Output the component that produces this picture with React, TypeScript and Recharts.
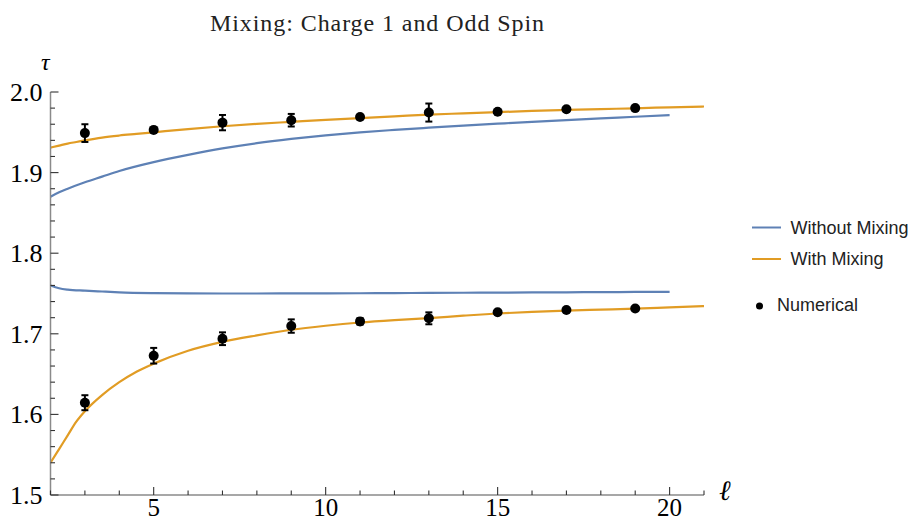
import { ComposedChart, Line, Scatter, ErrorBar, XAxis, YAxis } from "recharts"

// curves: spin ℓ on x, twist τ on y
const WITHOUT_ELL = [2, 2.25, 2.5, 3, 3.5, 4, 5, 6, 7, 8, 9, 10, 11, 12, 13, 14, 15, 16, 17, 18, 19, 20]
const WITHOUT_UPPER = [1.870, 1.8755, 1.880, 1.888, 1.895, 1.902, 1.913, 1.922, 1.930, 1.9365, 1.9418, 1.9463, 1.950, 1.953, 1.9557, 1.9583, 1.9607, 1.963, 1.9652, 1.9673, 1.9693, 1.9714]
const WITHOUT_LOWER = [1.760, 1.7565, 1.7548, 1.7535, 1.7525, 1.7515, 1.7505, 1.7501, 1.7500, 1.7500, 1.7501, 1.7502, 1.7503, 1.7505, 1.7507, 1.7509, 1.7511, 1.7513, 1.7515, 1.7517, 1.7519, 1.7521]

const WITH_ELL = [2, 2.25, 2.5, 2.75, 3, 3.5, 4, 4.5, 5, 6, 7, 8, 9, 10, 11, 12, 13, 14, 15, 16, 17, 18, 19, 20, 21]
const WITH_UPPER = [1.931, 1.9335, 1.936, 1.938, 1.940, 1.9435, 1.946, 1.948, 1.950, 1.954, 1.9575, 1.9605, 1.963, 1.9655, 1.9675, 1.9697, 1.972, 1.9735, 1.975, 1.9765, 1.9777, 1.9788, 1.9798, 1.981, 1.982]
const WITH_LOWER = [1.540, 1.557, 1.574, 1.591, 1.604, 1.624, 1.640, 1.653, 1.663, 1.679, 1.690, 1.698, 1.705, 1.710, 1.714, 1.717, 1.7195, 1.7225, 1.7252, 1.7272, 1.7288, 1.730, 1.7312, 1.7328, 1.7343]

// numerical points with error bars
const NUM_ELL = [3, 5, 7, 9, 11, 13, 15, 17, 19]
const NUM_UPPER = [1.949, 1.953, 1.962, 1.965, 1.969, 1.9745, 1.9755, 1.9785, 1.980]
const NUM_UPPER_ERR = [0.011, 0.002, 0.0095, 0.0078, 0.002, 0.0112, 0.001, 0.001, 0.001]
const NUM_LOWER = [1.6145, 1.6728, 1.6939, 1.7096, 1.7154, 1.7192, 1.7267, 1.7295, 1.7315]
const NUM_LOWER_ERR = [0.0093, 0.0097, 0.0079, 0.0083, 0.004, 0.0074, 0.001, 0.001, 0.001]

const X_MAJOR = [5, 10, 15, 20]
const Y_MAJOR = [1.5, 1.6, 1.7, 1.8, 1.9, 2.0]

const BLUE = "#5E81B5"
const ORANGE = "#E19C24"
const AXIS = "#8a8a8a"
const TICK = "#333"
const SERIF = "'Liberation Serif', 'Times New Roman', serif"
const SANS = "'Liberation Sans', Arial, sans-serif"

const zip = (xs: number[], ys: number[]) => xs.map((x, i) => ({ x, y: ys[i] }))

const withoutUpper = zip(WITHOUT_ELL, WITHOUT_UPPER)
const withoutLower = zip(WITHOUT_ELL, WITHOUT_LOWER)
const withUpper = zip(WITH_ELL, WITH_UPPER)
const withLower = zip(WITH_ELL, WITH_LOWER)
const numerical = [
  ...NUM_ELL.map((x, i) => ({ x, y: NUM_UPPER[i], err: NUM_UPPER_ERR[i] })),
  ...NUM_ELL.map((x, i) => ({ x, y: NUM_LOWER[i], err: NUM_LOWER_ERR[i] })),
]

// minor ticks every 1 on x, every 0.02 on y
const xTicks = Array.from({ length: 20 }, (_, i) => i + 2)
const yTicks = Array.from({ length: 26 }, (_, i) => Math.round((1.5 + i * 0.02) * 100) / 100)

const XTick = (props: any) => {
  const { x, y, payload } = props
  const v = payload.value
  const major = X_MAJOR.includes(v)
  const len = major ? 8 : 4.5
  return (
    <g>
      <path d={`M${x},${y}L${x},${y - len}`} stroke={TICK} strokeWidth={1.1} fill="none" />
      {major && (
        <text x={x} y={y + 21} textAnchor="middle" fontFamily={SERIF} fontSize={25} fill="#000">
          {v}
        </text>
      )}
    </g>
  )
}

const YTick = (props: any) => {
  const { x, y, payload } = props
  const v = payload.value
  const major = Y_MAJOR.some(m => Math.abs(m - v) < 1e-6)
  const len = major ? 8 : 4.5
  return (
    <g>
      <path d={`M${x},${y}L${x + len},${y}`} stroke={TICK} strokeWidth={1.1} fill="none" />
      {major && (
        <text x={x - 8} y={y + 9} textAnchor="end" fontFamily={SERIF} fontSize={26} fill="#000">
          {v.toFixed(1)}
        </text>
      )}
    </g>
  )
}

const Dot = ({ cx, cy }: any) => <circle cx={cx} cy={cy} r={5} fill="#000" />

export default function App() {
  return (
    <div style={{ position: "absolute", left: 0, top: 0, width: 914, height: 522, background: "#fff" }}>
      <ComposedChart width={914} height={522} margin={{ top: 92, right: 210, bottom: 0, left: 0 }}>
        <XAxis
          type="number"
          dataKey="x"
          domain={[2, 21]}
          ticks={xTicks}
          interval={0}
          tickSize={0}
          tickMargin={0}
          tickLine={false}
          height={27}
          axisLine={{ stroke: AXIS, strokeWidth: 1.5 }}
          tick={XTick}
          allowDataOverflow
        />
        <YAxis
          type="number"
          domain={[1.5, 2.0]}
          ticks={yTicks}
          interval={0}
          tickSize={0}
          tickMargin={0}
          tickLine={false}
          width={50.5}
          axisLine={{ stroke: AXIS, strokeWidth: 1.5 }}
          tick={YTick}
          allowDataOverflow
        />
        <Line data={withoutUpper} dataKey="y" type="monotone" stroke={BLUE} strokeWidth={2.2} dot={false} activeDot={false} isAnimationActive={false} />
        <Line data={withoutLower} dataKey="y" type="monotone" stroke={BLUE} strokeWidth={2.2} dot={false} activeDot={false} isAnimationActive={false} />
        <Line data={withUpper} dataKey="y" type="monotone" stroke={ORANGE} strokeWidth={2.2} dot={false} activeDot={false} isAnimationActive={false} />
        <Line data={withLower} dataKey="y" type="monotone" stroke={ORANGE} strokeWidth={2.2} dot={false} activeDot={false} isAnimationActive={false} />
        <Scatter data={numerical} dataKey="y" fill="#000" shape={<Dot />} isAnimationActive={false}>
          <ErrorBar dataKey="err" direction="y" width={3.5} strokeWidth={2} stroke="#000" />
        </Scatter>
      </ComposedChart>
      <svg width={914} height={522} style={{ position: "absolute", left: 0, top: 0, pointerEvents: "none" }}>
        <text x={377} y={31} textAnchor="middle" fontFamily={SERIF} fontSize={24} textLength={334} lengthAdjust="spacing" fill="#222">
          Mixing: Charge 1 and Odd Spin
        </text>
        <text x={41} y={70} fontFamily={SERIF} fontStyle="italic" fontSize={24} fill="#000">τ</text>
        <text x={719} y={500} fontFamily={SERIF} fontStyle="italic" fontSize={28} fill="#000">ℓ</text>
        <line x1={752} x2={781} y1={227.5} y2={227.5} stroke={BLUE} strokeWidth={2} />
        <text x={790.5} y={233.5} fontFamily={SANS} fontSize={18} fill="#222">Without Mixing</text>
        <line x1={752} x2={781} y1={259} y2={259} stroke={ORANGE} strokeWidth={2} />
        <text x={790.5} y={264.5} fontFamily={SANS} fontSize={18} fill="#222">With Mixing</text>
        <circle cx={759.5} cy={306} r={3.5} fill="#000" />
        <text x={777} y={310.5} fontFamily={SANS} fontSize={18} fill="#222">Numerical</text>
      </svg>
    </div>
  )
}
